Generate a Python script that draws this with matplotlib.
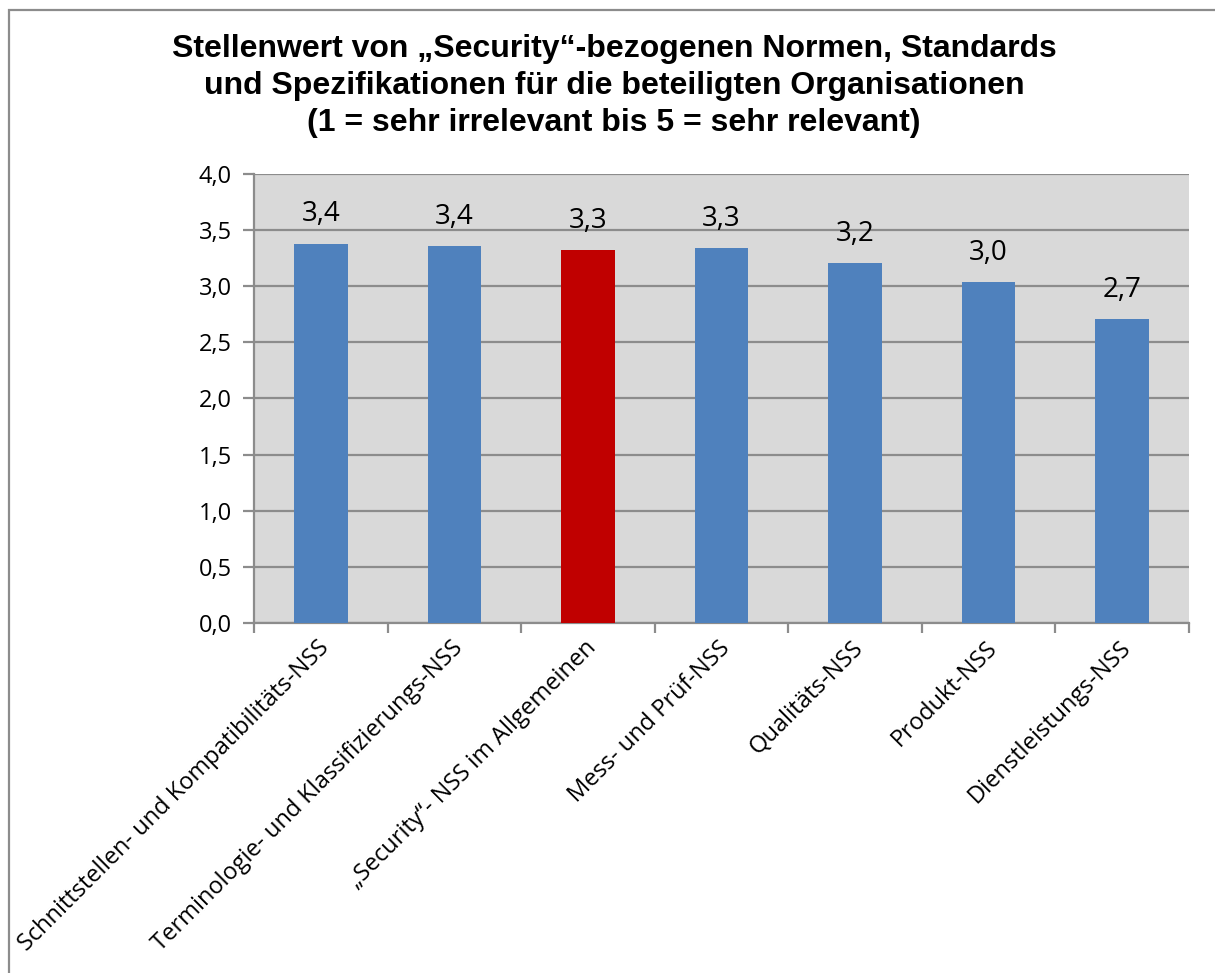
import matplotlib
matplotlib.use("Agg")
import matplotlib.pyplot as plt
from matplotlib.patches import Rectangle
import numpy as np

categories = [
    "Schnittstellen- und Kompatibilitäts-NSS",
    "Terminologie- und Klassifizierungs-NSS",
    "„Security“- NSS im Allgemeinen",
    "Mess- und Prüf-NSS",
    "Qualitäts-NSS",
    "Produkt-NSS",
    "Dienstleistungs-NSS",
]
values = [3.38, 3.36, 3.32, 3.34, 3.21, 3.04, 2.71]
highlight = "„Security“- NSS im Allgemeinen"
yticks = [0.0, 0.5, 1.0, 1.5, 2.0, 2.5, 3.0, 3.5, 4.0]
title = ("Stellenwert von „Security“-bezogenen Normen, Standards\n"
         "und Spezifikationen für die beteiligten Organisationen\n"
         "(1 = sehr irrelevant bis 5 = sehr relevant)")

BLUE = "#4F81BD"
RED = "#C00000"
GRID = "#8C8C8C"
BG = "#D9D9D9"
label_font = ["Open Sans", "DejaVu Sans"]

W, H = 1215, 973
fig = plt.figure(figsize=(W / 100, H / 100), dpi=100)

# outer chart border (runs off the right and bottom edges)
fig.patches.append(Rectangle((9 / W, -0.05), 1.2, 1 - 10 / H + 0.05,
                             transform=fig.transFigure, fill=False,
                             edgecolor=GRID, linewidth=1.6))

ax = fig.add_axes([254 / W, 1 - 623 / H, (1189 - 254) / W, (623 - 174) / H])
ax.set_facecolor(BG)

x = np.arange(len(categories))
colors = [RED if c == highlight else BLUE for c in categories]
bars = ax.bar(x, values, width=0.4, color=colors, zorder=3)

for xi, v in zip(x, values):
    ax.annotate(f"{v:.1f}".replace(".", ","), (xi, v), xytext=(0, 21),
                textcoords="offset points", ha="center", va="center",
                fontsize=20, family=label_font, color="black", zorder=4)

ax.set_xlim(-0.5, len(categories) - 0.5)
ax.set_ylim(0, 4.0)
ax.set_yticks(yticks)
ax.set_yticklabels([f"{t:.1f}".replace(".", ",") for t in yticks],
                   family=label_font, fontsize=17)
ax.yaxis.grid(True, color=GRID, linewidth=1.6, zorder=1)
ax.set_axisbelow(True)

# category names, slanted, hanging below each bar
ax.set_xticks(x)
ax.set_xticklabels([])
ax.tick_params(axis="x", which="major", length=0)
for xi, name in zip(x, categories):
    ax.annotate(name, (xi, 0), xycoords=("data", "axes fraction"),
                xytext=(3.5, -15.5), textcoords="offset points",
                rotation=45, rotation_mode="anchor", ha="right", va="center",
                fontsize=17, family=label_font, color="black",
                annotation_clip=False)

ax.set_xticks(np.arange(-0.5, len(categories)), minor=True)
ax.tick_params(axis="x", which="minor", length=7, width=1.6, color=GRID)
ax.tick_params(axis="y", length=8, width=1.6, color=GRID, pad=8)

for side in ("top", "right"):
    ax.spines[side].set_visible(False)
for side in ("left", "bottom"):
    ax.spines[side].set_color(GRID)
    ax.spines[side].set_linewidth(1.6)

fig.text(614 / W, 1 - 86 / H, title, ha="center", va="center",
         family=["Liberation Sans", "DejaVu Sans"], fontweight="bold",
         fontsize=23, linespacing=1.3)

fig.savefig("out.png", dpi=100, facecolor="white")
